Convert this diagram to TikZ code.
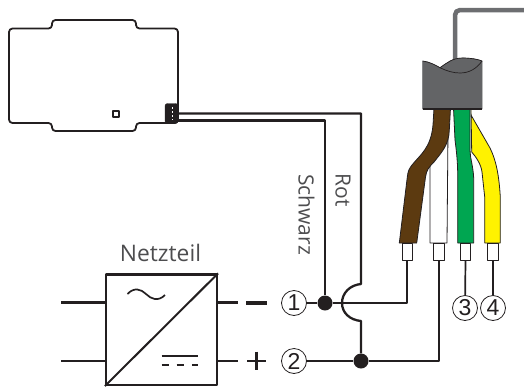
\documentclass[tikz,border=0pt]{standalone}
\usepackage{fontspec}
\setmainfont{Open Sans}
\newfontfamily\digitfont{Liberation Sans}
\definecolor{ink}{HTML}{231F20}
\definecolor{label}{HTML}{4D4D4F}
\definecolor{grom}{HTML}{636466}
\definecolor{cablec}{HTML}{6D6E71}
\definecolor{brownw}{HTML}{5C3A10}
\definecolor{greenw}{HTML}{00A651}
\definecolor{yelloww}{HTML}{FFF200}
\tikzset{
  wire/.style={draw=ink,line width=1.7pt},
  thickwire/.style={draw=ink,line width=2.3pt},
  ferrule/.style={draw=ink,line width=0.9pt,fill=white,minimum width=10.5pt,minimum height=17pt,inner sep=0pt},
  numcirc/.style={circle,draw=ink,line width=0.8pt,fill=white,minimum size=25pt,inner sep=0pt,font=\digitfont\fontsize{23}{23}\selectfont,text=ink},
  junction/.style={circle,fill=ink,minimum size=15pt,inner sep=0pt},
  lbl/.style={text=label,font=\fontsize{21}{21}\selectfont,inner sep=0pt},
  px/.style={x=1pt,y=-1pt}
}
\begin{document}
\begin{tikzpicture}[px,line join=round]
\useasboundingbox (0,0) rectangle (524,388);
% device housing
\draw[draw=ink,line width=1.8pt,rounded corners=3.5pt]
  (9,28.5) -- (52,28.5) -- (52,20) -- (136,20) -- (136,28.5) -- (178,28.5) -- (178,123)
  -- (136,123) -- (136,131) -- (52,131) -- (52,123) -- (9,123) -- cycle;
\node (led) [draw=ink,line width=2.2pt,fill=white,minimum size=6pt,inner sep=0pt] at (116,114) {};
% wires from the device connector
\node (plug) [draw=ink,fill=ink,rounded corners=2.5pt,minimum width=13pt,minimum height=20pt,inner sep=0pt] at (171.5,113.5) {};
\draw[white,line width=0.5pt,dash pattern=on 2pt off 2pt] (172,107) -- (172,120);
\coordinate (rotA) at (361,113.5);
\coordinate (schA) at (325,120.5);
\coordinate (arcT) at (361,284);
\coordinate (arcB) at (361,321);
\node (j1) [junction] at (325,303) {};
\node (j2) [junction] at (361,361) {};
\draw[thickwire] (plug.east |- rotA) -- (rotA) -- (arcT)
  .. controls (350,285) and (342,293) .. (342,303)
  .. controls (342,313) and (350,320) .. (arcB) -- (j2);
\draw[thickwire] (plug.east |- schA) -- (schA) -- (j1);
\node[lbl,rotate=-90] (rot) at (343,190) {Rot};
\node[lbl,rotate=-90] (sch) at (306.5,214.5) {Schwarz};
% power supply
\node (psu) [draw=ink,line width=2.2pt,minimum width=111pt,minimum height=110.5pt,inner sep=0pt] at (161.5,329.7) {};
\draw[line width=2pt,ink] (psu.south west) -- (psu.north east);
\node[lbl,font=\fontsize{22.8}{22.8}\selectfont] (net) at (160.5,252.5) {Netzteil};
\draw[line width=1.7pt,ink] (127.5,294) .. controls (134,287) and (141,289) .. (146,294)
  .. controls (151,299) and (158,302) .. (165,295);
\draw[line width=2pt,ink] (161.5,355.5) -- (198,355.5);
\draw[line width=2pt,ink,dash pattern=on 7pt off 8.2pt] (161.5,365) -- (198,365);
\coordinate (inA) at (61,302.5);
\coordinate (inB) at (61,361);
\coordinate (outA) at (238,302.5);
\coordinate (outB) at (238,361);
\draw[thickwire] (inA) -- (inA -| psu.west);
\draw[thickwire] (inB) -- (inB -| psu.west);
\draw[thickwire] (psu.east |- outA) -- (outA);
\draw[thickwire] (psu.east |- outB) -- (outB);
\draw[ink,line width=3.4pt] (246,303) -- (267,303);
\draw[ink,line width=2.6pt] (247,361) -- (265.5,361) (256.3,351.7) -- (256.3,370);
% numbered terminals
\node (n1) [numcirc] at (294,303) {1};
\node (n2) [numcirc] at (294,361) {2};
\node (n3) [numcirc] at (465,308) {3};
\node (n4) [numcirc] at (493,308) {4};
% cable
\draw[cablec,line width=4.5pt,rounded corners=5pt] (455,62) -- (455,10) -- (524,10);
% conductors
\fill[yelloww,draw=ink,line width=0.8pt] (471,108) -- (471.7,152) .. controls (476,157) and (481,164) .. (482,172) -- (484.7,197) -- (484.7,243) -- (500.3,243) -- (500.3,197) .. controls (499,175) and (496,160) .. (490,148) -- (471,115) -- cycle;
\fill[greenw,draw=ink,line width=0.8pt] (453.5,108) -- (455,140) .. controls (457,155) and (457.7,165) .. (457.7,175) -- (457.7,243) -- (473.7,243) -- (473.7,178) .. controls (473,165) and (470,158) .. (470,150) -- (470,108) -- cycle;
\fill[white,draw=ink,line width=0.8pt] (430,243) -- (430,165) -- (448,130) -- (447,243) -- cycle;
\fill[brownw,draw=ink,line width=0.8pt] (399.3,243) -- (407.3,177) .. controls (408,171) and (409,169) .. (412,165) .. controls (420,155) and (431,148) .. (433,125) -- (434,108) -- (450.5,108) -- (449.3,130) .. controls (449,145) and (441,153) .. (434,162) .. controls (429,167) and (426.5,170) .. (425.5,177) -- (416.7,243) -- cycle;
% grommet
\fill[grom,draw=grom,line width=0.6pt] (422.7,61) .. controls (430,62) and (435,65) .. (440,67.7)
  .. controls (447,63) and (452,58) .. (463,58) .. controls (470,58) and (477,59) .. (482,61)
  -- (482,109) -- (422.7,109) -- cycle;
\draw[ink,line width=0.7pt] (422.7,61) .. controls (430,62) and (435,65) .. (440,67.7)
  .. controls (447,63) and (452,58) .. (463,58) .. controls (470,58) and (477,59) .. (482,61);
\draw[ink,line width=0.7pt] (440,67.7) .. controls (447,71) and (453,73) .. (460,73) .. controls (470,73) and (477,68) .. (482,61);
\draw[ink,line width=1.2pt] (422.7,109) -- (482,109);
% ferrules
\node (f1) [ferrule] at (407.3,251.5) {};
\node (f2) [ferrule] at (438.7,251.5) {};
\node (f3) [ferrule] at (465.5,251.5) {};
\node (f4) [ferrule] at (493,251.5) {};
\coordinate (c1) at (407.3,303);
\coordinate (c2) at (438.7,361);
% connectors
\draw[wire] (n1) -- (j1);
\draw[wire] (j1) -- (c1) -- (f1.south);
\draw[wire] (n2) -- (j2);
\draw[wire] (j2) -- (c2) -- (f2.south);
\draw[wire] (f3.south) -- (n3);
\draw[wire] (f4.south) -- (n4);
\end{tikzpicture}
\end{document}
